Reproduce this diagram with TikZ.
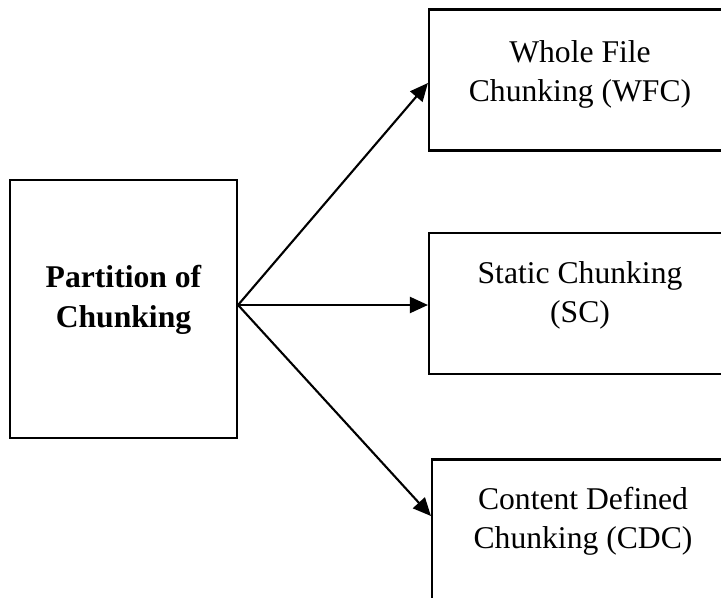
\documentclass[tikz,border=0pt]{standalone}
\usepackage{fontspec}
\setmainfont{Liberation Serif}
\usetikzlibrary{arrows.meta}

\begin{document}
\begin{tikzpicture}[x=0.025cm, y=-0.025cm, line width=1.5pt,
                    box node/.style={draw,rectangle,align=center,
                      font=\fontsize{22.5}{27.5}\selectfont,
                      minimum width=302*0.025cm, minimum height=141*0.025cm},
                    part node/.style={box node,font=\fontsize{22.5}{28}\selectfont\bfseries,
                      minimum width=227*0.025cm, minimum height=258*0.025cm},
                    arr/.style={-{Triangle[length=0.45cm,width=0.4cm]}}]

  \useasboundingbox (0,0) rectangle (721,597);
  \clip (0,0) rectangle (721,597);

  \node[part node] (part) at (123.5,309) {Partition of\\Chunking\rule[-18pt]{0pt}{0pt}};
  \node[box node] (wfc) at (580,80) {Whole File\\Chunking (WFC)\rule[-12.5pt]{0pt}{0pt}};
  \node[box node] (sc) at (580,303.5) {Static Chunking\\(SC)\rule[-16pt]{0pt}{0pt}};
  \node[box node] (cdc) at (583,530) {Content Defined\\Chunking (CDC)\rule[-17pt]{0pt}{0pt}};

  \coordinate (fork) at ([yshift=0.1cm]part.east);

\path[arr]
     (fork) edge ([yshift=-0.075cm]wfc.west)
     (fork) edge (fork -| sc.west)
     (fork) edge ([yshift=0.35cm]cdc.west)
   ;

\end{tikzpicture}
\end{document}
